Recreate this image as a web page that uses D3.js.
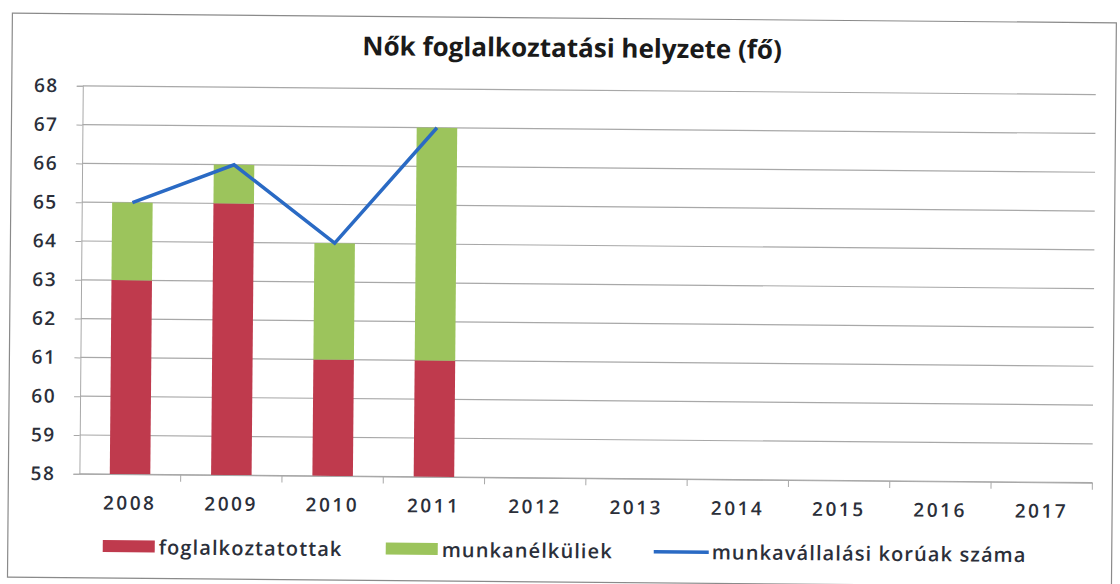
<!DOCTYPE html>
<html>
<head>
<meta charset="utf-8">
<script src="https://cdn.jsdelivr.net/npm/d3@7"></script>
<style>
  body { margin: 0; background: #fff; }
  text { font-family: "Open Sans", sans-serif; }
</style>
</head>
<body>
<div id="chart"></div>
<script>
// data
const years = ["2008", "2009", "2010", "2011", "2012", "2013", "2014", "2015", "2016", "2017"];
const employed = [63, 65, 61, 61];       // foglalkoztatottak
const unemployed = [2, 1, 3, 6];         // munkanélküliek
const workingAge = [65, 66, 64, 67];     // munkavállalási korúak száma
const yTicks = [58, 59, 60, 61, 62, 63, 64, 65, 66, 67, 68];

const W = 1120, H = 584;
const margin = {top: 90, right: 26, bottom: 106, left: 81};
const width = W - margin.left - margin.right,
      height = H - margin.top - margin.bottom;

const textColor = "#2b2f3a";
const gridColor = "#a8a8a8";

const svg = d3.select("#chart").append("svg")
    .attr("width", W)
    .attr("height", H);

// the scanned original is tilted a little, so tilt everything the same way
const root = svg.append("g")
    .attr("transform", `rotate(0.5, ${W / 2}, ${H / 2})`);

// outer frame
root.append("rect")
    .attr("x", 10).attr("y", 18)
    .attr("width", 1104).attr("height", 564)
    .attr("fill", "none")
    .attr("stroke", "#8a8a8a")
    .attr("stroke-width", 1.2);

root.append("text")
    .attr("x", 570).attr("y", 57)
    .attr("text-anchor", "middle")
    .attr("font-size", 26)
    .attr("font-weight", 700)
    .attr("fill", "#1a1a1a")
    .text("Nők foglalkoztatási helyzete (fő)");

const g = root.append("g")
    .attr("transform", `translate(${margin.left},${margin.top})`);

const x = d3.scaleBand()
    .domain(years)
    .range([0, width])
    .paddingInner(0.6)
    .paddingOuter(0.3);

const xBand = d3.scaleBand().domain(years).range([0, width]);

const y = d3.scaleLinear()
    .domain([58, 68])
    .range([height, 0]);

// gridlines
g.append("g")
    .selectAll("line")
    .data(yTicks)
    .join("line")
      .attr("x1", 0).attr("x2", width)
      .attr("y1", d => y(d)).attr("y2", d => y(d))
      .attr("stroke", gridColor)
      .attr("stroke-width", 1.2);

// y axis
const yAxis = g.append("g")
    .call(d3.axisLeft(y).tickValues(yTicks).tickSize(6).tickFormat(d3.format("d")));
yAxis.select(".domain").attr("stroke", gridColor);
yAxis.selectAll(".tick line").attr("stroke", gridColor);
yAxis.selectAll("text")
    .attr("x", -24)
    .attr("font-size", 19)
    .attr("font-weight", 600)
    .attr("letter-spacing", 1.5)
    .attr("fill", textColor)
    .attr("font-family", "'Open Sans', sans-serif");

// stacked bars
const stackData = employed.map((v, i) => ({year: years[i], employed: v, unemployed: unemployed[i]}));
const series = d3.stack().keys(["employed", "unemployed"])(stackData);
const colors = {employed: "#bf3a4d", unemployed: "#9cc45c"};

g.append("g")
    .selectAll("g")
    .data(series)
    .join("g")
      .attr("fill", d => colors[d.key])
    .selectAll("rect")
    .data(d => d)
    .join("rect")
      .attr("x", d => x(d.data.year))
      .attr("width", x.bandwidth())
      .attr("y", d => y(d[1]))
      .attr("height", d => y(Math.max(d[0], 58)) - y(d[1]));

// x axis
const xAxis = g.append("g")
    .attr("transform", `translate(0,${height})`)
    .call(d3.axisBottom(xBand).tickSize(0).tickPadding(22));
xAxis.select(".domain").attr("stroke", gridColor);
xAxis.selectAll("text")
    .attr("font-size", 19)
    .attr("font-weight", 600)
    .attr("letter-spacing", 2.5)
    .attr("fill", textColor)
    .attr("font-family", "'Open Sans', sans-serif");

// tick marks between categories
g.append("g")
    .selectAll("line")
    .data(years.slice(1).concat(["end"]))
    .join("line")
      .attr("x1", (d, i) => i < years.length - 1 ? xBand(d) : width)
      .attr("x2", (d, i) => i < years.length - 1 ? xBand(d) : width)
      .attr("y1", height).attr("y2", height + 7)
      .attr("stroke", gridColor);

// line
const line = d3.line()
    .x((d, i) => xBand(years[i]) + xBand.bandwidth() / 2)
    .y(d => y(d));
g.append("path")
    .datum(workingAge)
    .attr("fill", "none")
    .attr("stroke", "#2a6ac4")
    .attr("stroke-width", 3.5)
    .attr("d", line);

// legend
const legend = root.append("g").attr("transform", "translate(0,550)");
const legendItems = [
  {label: "foglalkoztatottak", color: colors.employed, type: "rect", x: 105},
  {label: "munkanélküliek", color: colors.unemployed, type: "rect", x: 388},
  {label: "munkavállalási korúak száma", color: "#2a6ac4", type: "line", x: 656}
];
legendItems.forEach(item => {
  if (item.type === "rect") {
    legend.append("rect")
      .attr("x", item.x).attr("y", -6)
      .attr("width", 52).attr("height", 12)
      .attr("fill", item.color);
  } else {
    legend.append("line")
      .attr("x1", item.x).attr("x2", item.x + 55)
      .attr("y1", 1).attr("y2", 1)
      .attr("stroke", item.color)
      .attr("stroke-width", 3.5);
  }
  legend.append("text")
    .attr("x", item.x + (item.type === "rect" ? 56 : 58))
    .attr("y", 8)
    .attr("font-size", 20)
    .attr("font-weight", 600)
    .attr("letter-spacing", 1.1)
    .attr("fill", textColor)
    .text(item.label);
});
</script>
</body>
</html>
